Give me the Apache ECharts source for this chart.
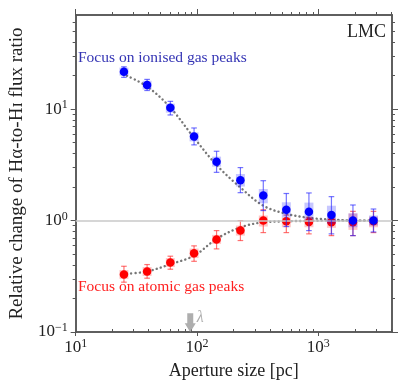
<!DOCTYPE html>
<html>
<head>
<meta charset="utf-8">
<style>
  html, body { margin: 0; padding: 0; background: #fff; }
  #main { width: 407px; height: 389px; }
</style>
<script src="https://cdn.jsdelivr.net/npm/echarts@6/dist/echarts.min.js"></script>
</head>
<body>
<div id="main"></div>
<script>
// aperture sizes [pc]
const apertures = [25, 38.8, 60.3, 94.6, 145, 228, 352, 545, 837, 1283, 1930, 2850];

// ionised gas peaks (blue)
const ionValue = [21.7, 16.5, 10.3, 5.67, 3.38, 2.30, 1.68, 1.25, 1.20, 1.12, 1.00, 1.00];
const ionErrHi = [24.0, 18.5, 11.75, 6.78, 4.19, 2.99, 2.28, 1.75, 1.77, 1.64, 1.38, 1.27];
const ionErrLo = [19.3, 14.7, 8.87, 4.78, 2.71, 1.78, 1.23, 0.884, 0.813, 0.76, 0.733, 0.79];
const ionBoxHi = [23.6, 18.0, 11.2, 6.19, 3.75, 2.62, 1.92, 1.46, 1.45, 1.36, 1.16, 1.11];
const ionBoxLo = [20.0, 15.0, 9.3, 5.14, 3.05, 2.02, 1.43, 1.07, 1.02, 0.934, 0.871, 0.902];

// atomic gas peaks (red)
const atomValue = [0.328, 0.349, 0.42, 0.509, 0.676, 0.813, 1.0, 0.986, 0.973, 0.966, 0.966, 0.986];
const atomErrHi = [0.389, 0.403, 0.479, 0.593, 0.813, 1.0, 1.25, 1.12, 1.07, 1.03, 1.21, 1.21];
const atomErrLo = [0.28, 0.304, 0.366, 0.431, 0.557, 0.662, 0.78, 0.78, 0.76, 0.733, 0.733, 0.78];
const atomBoxHi = [0.36, 0.383, 0.461, 0.561, 0.744, 0.902, 1.11, 1.07, 1.07, 1.07, 1.16, 1.085];
const atomBoxLo = [0.30, 0.318, 0.383, 0.461, 0.618, 0.733, 0.884, 0.871, 0.871, 0.86, 0.825, 0.871];

// dotted model curves
const fitX = [26.5, 39, 60, 95, 145, 228, 352, 545, 837, 1283, 1930, 2850];
const ionFit = [19.9, 15.9, 10.4, 5.5, 3.15, 1.98, 1.36, 1.15, 1.06, 1.02, 1.0, 1.0];
const atomFit = [0.333, 0.35, 0.405, 0.485, 0.685, 0.87, 0.965, 0.985, 0.995, 1.0, 1.0, 1.0];

// ticks
const xMajor = [10, 100, 1000];
const xMinor = [20, 30, 40, 50, 60, 70, 80, 90, 200, 300, 400, 500, 600, 700, 800, 900, 2000, 3000, 4000];
const yMajor = [0.1, 1, 10];
const yMinor = [0.2, 0.3, 0.4, 0.5, 0.6, 0.7, 0.8, 0.9, 2, 3, 4, 5, 6, 7, 8, 9, 20, 30, 40, 50, 60];

const lambdaPos = [88, 0.121];

const SERIF = '"Liberation Serif", "DejaVu Serif", serif';
const AXIS_COLOR = '#555';

function powLabel(v) {
  const e = Math.round(Math.log10(v));
  return '{b|10}{s|' + (e < 0 ? '\u2212' + (-e) : e) + '}';
}
const labelRich = {
  b: { fontSize: 17, fontFamily: SERIF, color: '#222', lineHeight: 20 },
  s: { fontSize: 12, fontFamily: SERIF, color: '#222', verticalAlign: 'top', lineHeight: 12 }
};

function logAxis(pos, range, ticks, len, inside, labels) {
  const ax = {
    type: 'log',
    position: pos,
    min: range[0],
    max: range[1],
    axisLine: { show: true, lineStyle: { color: AXIS_COLOR, width: 1.5 } },
    axisTick: { show: true, customValues: ticks, length: len, inside: inside,
                lineStyle: { color: AXIS_COLOR, width: 1 } },
    axisLabel: { show: false },
    splitLine: { show: false },
    minorTick: { show: false }
  };
  if (labels) {
    ax.axisLabel = { show: true, customValues: ticks, formatter: powLabel, rich: labelRich,
                     margin: 6 };
  }
  return ax;
}

const xRange = [10, 4050];
const yRange = [0.1, 70];

const xAxes = [
  logAxis('bottom', xRange, xMajor, 4, false, true),
  logAxis('bottom', xRange, xMinor, 3, true, false),
  logAxis('top', xRange, xMajor, 6, false, false),
  logAxis('top', xRange, xMinor, 3, false, false)
];
xAxes[0].name = 'Aperture size [pc]';
xAxes[0].nameLocation = 'middle';
xAxes[0].nameGap = 30;
xAxes[0].nameTextStyle = { fontFamily: SERIF, fontSize: 18, color: '#222' };

const yAxes = [
  logAxis('left', yRange, yMajor, 5, false, true),
  logAxis('left', yRange, yMinor, 3, false, false),
  logAxis('right', yRange, yMajor, 6, false, false),
  logAxis('right', yRange, yMinor, 3, false, false)
];
yAxes[0].name = 'Relative change of H\u03b1-to-H\u026a flux ratio';
yAxes[0].nameLocation = 'middle';
yAxes[0].nameGap = 46;
yAxes[0].nameTextStyle = { fontFamily: SERIF, fontSize: 19, color: '#222' };
yAxes[0].axisLabel.margin = 8;

function zip(a, b, c) {
  return a.map((v, i) => (c ? [v, b[i], c[i]] : [v, b[i]]));
}

function errBars(color) {
  return function (params, api) {
    const x = api.value(0);
    const lo = api.coord([x, api.value(1)]);
    const hi = api.coord([x, api.value(2)]);
    const cw = 2.8;
    const st = { stroke: color, lineWidth: 1.2 };
    return {
      type: 'group',
      children: [
        { type: 'line', shape: { x1: lo[0], y1: lo[1], x2: hi[0], y2: hi[1] }, style: st },
        { type: 'line', shape: { x1: lo[0] - cw, y1: lo[1], x2: lo[0] + cw, y2: lo[1] }, style: st },
        { type: 'line', shape: { x1: hi[0] - cw, y1: hi[1], x2: hi[0] + cw, y2: hi[1] }, style: st }
      ]
    };
  };
}

function boxes(color) {
  return function (params, api) {
    const x = api.value(0);
    const lo = api.coord([x, api.value(1)]);
    const hi = api.coord([x, api.value(2)]);
    const w = 9;
    return {
      type: 'rect',
      shape: { x: lo[0] - w / 2, y: hi[1], width: w, height: lo[1] - hi[1] },
      style: { fill: color }
    };
  };
}

const dotted = { color: '#777', width: 2.4, type: [0.1, 4.2], cap: 'round' };

const chart = echarts.init(document.getElementById('main'), null, { renderer: 'canvas' });
chart.setOption({
  backgroundColor: '#fff',
  animation: false,
  grid: { left: 73, right: 15, top: 15, bottom: 57 },
  xAxis: xAxes,
  yAxis: yAxes,
  graphic: [
    { type: 'text', right: 21, top: 23,
      style: { text: 'LMC', fontFamily: SERIF, fontSize: 18, fill: '#222' } },
    { type: 'text', left: 78, top: 50,
      style: { text: 'Focus on ionised gas peaks', fontFamily: SERIF, fontSize: 15.5, fill: '#3434b4' } },
    { type: 'text', left: 78, top: 279,
      style: { text: 'Focus on atomic gas peaks', fontFamily: SERIF, fontSize: 15.5, fill: '#ff2020' } }
  ],
  series: [
    {
      name: 'atomic fit', type: 'line', smooth: 0.35, showSymbol: false, z: 1,
      data: zip(fitX, atomFit), lineStyle: dotted,
      markLine: {
        silent: true, symbol: 'none', label: { show: false },
        lineStyle: { color: '#c8c8c8', type: 'solid', width: 1.5 },
        data: [{ yAxis: 1 }]
      }
    },
    {
      name: 'ionised fit', type: 'line', smooth: 0.35, showSymbol: false, z: 1,
      data: zip(fitX, ionFit), lineStyle: dotted
    },
    {
      name: 'atomic box', type: 'custom', z: 2, renderItem: boxes('rgba(255,0,0,0.22)'),
      encode: { x: 0, y: [1, 2] }, data: zip(apertures, atomBoxLo, atomBoxHi)
    },
    {
      name: 'atomic err', type: 'custom', z: 3, renderItem: errBars('rgba(255,40,40,0.65)'),
      encode: { x: 0, y: [1, 2] }, data: zip(apertures, atomErrLo, atomErrHi)
    },
    {
      name: 'atomic', type: 'scatter', z: 4, symbolSize: 8.5,
      itemStyle: { color: '#ff0000', opacity: 1 }, data: zip(apertures, atomValue)
    },
    {
      name: 'ionised box', type: 'custom', z: 5, renderItem: boxes('rgba(0,0,255,0.22)'),
      encode: { x: 0, y: [1, 2] }, data: zip(apertures, ionBoxLo, ionBoxHi)
    },
    {
      name: 'ionised err', type: 'custom', z: 6, renderItem: errBars('rgba(40,40,255,0.65)'),
      encode: { x: 0, y: [1, 2] }, data: zip(apertures, ionErrLo, ionErrHi)
    },
    {
      name: 'ionised', type: 'scatter', z: 7, symbolSize: 8.5,
      itemStyle: { color: '#0000ff', opacity: 1 }, data: zip(apertures, ionValue)
    },
    {
      name: 'lambda', type: 'scatter', z: 8,
      symbol: 'path://M2.5,0 L8.5,0 L8.5,10 L11,10 L5.5,19 L0,10 L2.5,10 Z',
      symbolSize: [11, 19],
      itemStyle: { color: '#9a9a9a' },
      label: { show: true, position: 'right', distance: 1, offset: [0, -5], formatter: '\u03bb',
               fontFamily: SERIF, fontStyle: 'italic', fontSize: 16, color: '#999' },
      data: [lambdaPos]
    }
  ]
});
</script>
</body>
</html>
